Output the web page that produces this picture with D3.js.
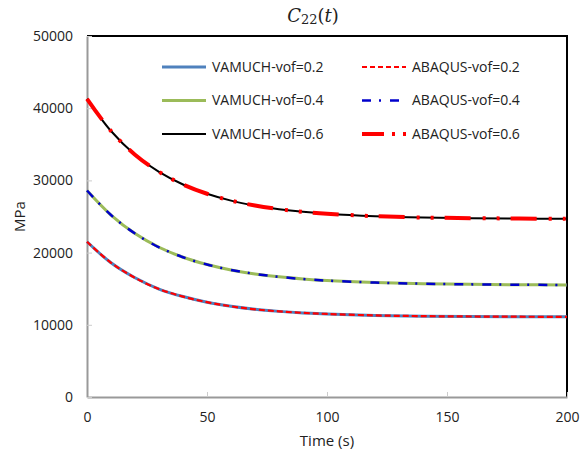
<!DOCTYPE html>
<html>
<head>
<meta charset="utf-8">
<script src="https://cdn.jsdelivr.net/npm/d3@7"></script>
<style>
  body { margin: 0; background: #fff; }
  text { font-family: "Open Sans", "Liberation Sans", sans-serif; fill: #222; }
</style>
</head>
<body>
<div id="holder"></div>
<script>
// values (MPa)
var times = [0, 10, 20, 30, 40, 50, 60, 70, 80, 90, 100, 120, 140, 160, 180, 200];
var vamuch02 = [21500, 18590, 16510, 14950, 13910, 13130, 12560, 12140, 11860, 11650, 11500, 11300, 11200, 11150, 11120, 11100];
var abaqus02 = [21500, 18590, 16510, 14950, 13910, 13130, 12560, 12140, 11860, 11650, 11500, 11300, 11200, 11150, 11120, 11100];
var vamuch04 = [28600, 25200, 22640, 20740, 19360, 18350, 17600, 17050, 16640, 16340, 16120, 15850, 15690, 15600, 15550, 15510];
var abaqus04 = [28600, 25200, 22640, 20740, 19360, 18350, 17600, 17050, 16640, 16340, 16120, 15850, 15690, 15600, 15550, 15510];
var vamuch06 = [41300, 36840, 33560, 31180, 29430, 28150, 27200, 26520, 26020, 25650, 25380, 25040, 24860, 24770, 24720, 24680];
var abaqus06 = [41300, 36840, 33560, 31180, 29430, 28150, 27200, 26520, 26020, 25650, 25380, 25040, 24860, 24770, 24720, 24680];
var xTicks = [0, 50, 100, 150, 200];
var yTicks = [0, 10000, 20000, 30000, 40000, 50000];

var series = [
  {name: 'VAMUCH-vof=0.2', values: vamuch02, color: '#4f81bd', width: 3, dash: null, legendDash: null},
  {name: 'ABAQUS-vof=0.2', values: abaqus02, color: '#ff0000', width: 2.2, dash: '6,3', legendDash: '5,3'},
  {name: 'VAMUCH-vof=0.4', values: vamuch04, color: '#9bbb59', width: 3, dash: null, legendDash: null},
  {name: 'ABAQUS-vof=0.4', values: abaqus04, color: '#0000cc', width: 2.5, dash: '9,8,2,9', legendDash: '9,8,2,9'},
  {name: 'VAMUCH-vof=0.6', values: vamuch06, color: '#000000', width: 2, dash: null, legendDash: null},
  {name: 'ABAQUS-vof=0.6', values: abaqus06, color: '#ff0000', width: 4, dash: '26,12,3,11,3,11', legendDash: '22,8,3,8'}
];

var fullWidth = 581;
var fullHeight = 456;
var margin = {top: 36, right: 14, bottom: 59, left: 87};
var width = fullWidth - margin.left - margin.right;
var height = fullHeight - margin.top - margin.bottom;

var svg = d3.select('#holder').append('svg')
  .attr('width', fullWidth)
  .attr('height', fullHeight);

var g = svg.append('g')
  .attr('transform', 'translate(' + margin.left + ',' + margin.top + ')');

var x = d3.scaleLinear().domain([0, 200]).range([0, width]);
var y = d3.scaleLinear().domain([0, 50000]).range([height, 0]);

// top and right frame (black)
g.append('path')
  .attr('d', 'M0,0H' + width + 'V' + height)
  .attr('fill', 'none')
  .attr('stroke', '#000')
  .attr('stroke-width', 2);

var xaxis = d3.axisBottom(x).tickValues(xTicks).tickSizeInner(-5).tickSizeOuter(0).tickPadding(15);
var yaxis = d3.axisLeft(y).tickValues(yTicks).tickSizeInner(-5).tickSizeOuter(0).tickPadding(14)
  .tickFormat(d3.format('d'));

var gx = g.append('g')
  .attr('transform', 'translate(0,' + height + ')')
  .call(xaxis);
var gy = g.append('g').call(yaxis);

[gx, gy].forEach(function(a) {
  a.select('.domain').attr('stroke', '#999').attr('stroke-width', 2);
  a.selectAll('.tick line').attr('stroke', '#ccc');
  a.selectAll('.tick text')
    .style('font-family', '"Open Sans", sans-serif')
    .style('font-size', '14px')
    .attr('fill', '#222');
});

var line = d3.line()
  .x(function(d, i) { return x(times[i]); })
  .y(function(d) { return y(d); })
  .curve(d3.curveCatmullRom);

g.selectAll('path.series')
  .data(series)
  .enter().append('path')
  .classed('series', true)
  .attr('d', function(s) { return line(s.values); })
  .attr('fill', 'none')
  .attr('stroke', function(s) { return s.color; })
  .attr('stroke-width', function(s) { return s.width; })
  .attr('stroke-dasharray', function(s) { return s.dash; });

// legend
var legend = svg.append('g');
var items = legend.selectAll('g.item')
  .data(series)
  .enter().append('g')
  .classed('item', true)
  .attr('transform', function(s, i) {
    var col = i % 2, row = Math.floor(i / 2);
    return 'translate(' + (162 + col * 200) + ',' + (67 + row * 33.5) + ')';
  });

items.append('line')
  .attr('x1', 0).attr('x2', 44)
  .attr('stroke', function(s) { return s.color; })
  .attr('stroke-width', function(s) { return s.width; })
  .attr('stroke-dasharray', function(s) { return s.legendDash; });

items.append('text')
  .attr('x', 50)
  .attr('dy', '0.35em')
  .style('font-size', '14px')
  .text(function(s) { return s.name; });

// title
var title = svg.append('text')
  .attr('x', 313)
  .attr('y', 22)
  .attr('text-anchor', 'middle')
  .style('font-family', '"DejaVu Serif", serif')
  .style('font-size', '18px');
title.append('tspan').style('font-style', 'italic').text('C');
title.append('tspan').style('font-size', '13px').attr('dy', 2).text('22');
title.append('tspan').attr('dy', -2).text('(');
title.append('tspan').style('font-style', 'italic').text('t');
title.append('tspan').text(')');

// axis titles
svg.append('text')
  .attr('x', margin.left + width / 2)
  .attr('y', 446)
  .attr('text-anchor', 'middle')
  .style('font-size', '15px')
  .text('Time (s)');

svg.append('text')
  .attr('transform', 'translate(25,' + (margin.top + height / 2) + ') rotate(-90)')
  .attr('text-anchor', 'middle')
  .style('font-size', '15px')
  .text('MPa');
</script>
</body>
</html>
